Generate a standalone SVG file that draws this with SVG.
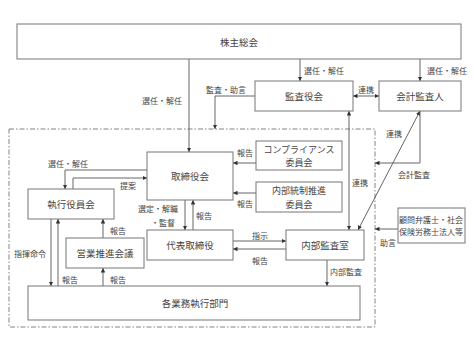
<svg xmlns="http://www.w3.org/2000/svg" width="474" height="356" viewBox="0 0 474 356">
<defs>
<marker id="ah" viewBox="0 0 6 6" refX="6" refY="3" markerWidth="4.5" markerHeight="4.5" orient="auto-start-reverse" markerUnits="userSpaceOnUse">
<path d="M0,0 L6,3 L0,6 Z" fill="#333"/>
</marker>
<style>
.box{fill:#fff;stroke:#777;stroke-width:1}
.t{font-family:"Noto Sans CJK JP","Noto Sans",sans-serif;font-size:9.5px;fill:#444;text-anchor:middle;dominant-baseline:central}
.t2{font-family:"Noto Sans CJK JP","Noto Sans",sans-serif;font-size:9px;fill:#444;text-anchor:middle;dominant-baseline:central}
.l{font-family:"Noto Sans CJK JP","Noto Sans",sans-serif;font-size:8px;fill:#444;text-anchor:middle;dominant-baseline:central}
.c{fill:none;stroke:#555;stroke-width:0.9}
.a{marker-end:url(#ah)}
.b{marker-start:url(#ah);marker-end:url(#ah)}
</style>
</defs>
<rect width="474" height="356" fill="#fff"/>
<rect id="frame" x="9" y="129" width="366" height="198" fill="none" stroke="#777" stroke-width="0.9" stroke-dasharray="5,2,1.5,2"/>
<g id="connectors">
<path class="c a" d="M189,59 V152"/>
<path class="c a" d="M300,59 V81"/>
<path class="c a" d="M420,59 V81"/>
<path class="c b" d="M353,96 H379"/>
<path class="c a" d="M255,96 H215 V129"/>
<path class="c a" d="M256,163 H233"/>
<path class="c a" d="M256,193 H233"/>
<path class="c a" d="M185,200 V230"/>
<path class="c a" d="M193,230 V200"/>
<path class="c a" d="M147,170 H65 V189"/>
<path class="c a" d="M73,189 V178 H147"/>
<path class="c a" d="M51,219 V286"/>
<path class="c a" d="M58,286 V219"/>
<path class="c a" d="M103,238 V219"/>
<path class="c a" d="M103,286 V268"/>
<path class="c a" d="M233,241 H286"/>
<path class="c a" d="M286,249 H233"/>
<path class="c a" d="M327,260 V286"/>
<path class="c b" d="M349,111 V230"/>
<path class="c b" d="M420,111 L358,230"/>
<path class="c a" d="M420,111 V163 H375"/>
<path class="c a" d="M398,229 H375"/>
</g>
<g id="labels">
<text class="l" x="162" y="100">選任・解任</text>
<text class="l" x="324" y="70">選任・解任</text>
<text class="l" x="447" y="70">選任・解任</text>
<text class="l" x="366" y="89">連携</text>
<text class="l" x="226" y="89">監査・助言</text>
<text class="l" x="245" y="152">報告</text>
<text class="l" x="245" y="203">報告</text>
<text class="l" x="158" y="208">選定・解職</text>
<text class="l" x="163" y="222">・監督</text>
<text class="l" x="204" y="215">報告</text>
<text class="l" x="68" y="163">選任・解任</text>
<text class="l" x="128" y="185">提案</text>
<text class="l" x="30" y="253">指揮命令</text>
<text class="l" x="70" y="279">報告</text>
<text class="l" x="118" y="230">報告</text>
<text class="l" x="118" y="279">報告</text>
<text class="l" x="260" y="235">指示</text>
<text class="l" x="260" y="260">報告</text>
<text class="l" x="346" y="271">内部監査</text>
<text class="l" x="360" y="182">連携</text>
<text class="l" x="394" y="133">連携</text>
<text class="l" x="414" y="174">会計監査</text>
<text class="l" x="388" y="242">助言</text>
</g>
<g id="shareholders"><rect class="box" x="17" y="24" width="444" height="35"/><text class="t" x="239" y="42">株主総会</text></g>
<g id="auditboard"><rect class="box" x="255" y="81" width="98" height="30"/><text class="t" x="304" y="96">監査役会</text></g>
<g id="accountant"><rect class="box" x="379" y="81" width="82" height="30"/><text class="t" x="420" y="96">会計監査人</text></g>
<g id="board"><rect class="box" x="147" y="152" width="86" height="48"/><text class="t" x="190" y="176">取締役会</text></g>
<g id="compliance"><rect class="box" x="256" y="141" width="86" height="29"/><text class="t2" x="299" y="149">コンプライアンス</text><text class="t2" x="299" y="162.5">委員会</text></g>
<g id="internalcontrol"><rect class="box" x="256" y="182" width="86" height="30"/><text class="t2" x="299" y="190.5">内部統制推進</text><text class="t2" x="299" y="204">委員会</text></g>
<g id="president"><rect class="box" x="147" y="230" width="86" height="30"/><text class="t" x="190" y="245">代表取締役</text></g>
<g id="executive"><rect class="box" x="28" y="189" width="86" height="30"/><text class="t" x="71" y="204">執行役員会</text></g>
<g id="sales"><rect class="box" x="66" y="238" width="78" height="30"/><text class="t" x="105" y="253">営業推進会議</text></g>
<g id="internalaudit"><rect class="box" x="286" y="230" width="78" height="30"/><text class="t" x="325" y="245">内部監査室</text></g>
<g id="divisions"><rect class="box" x="28" y="286" width="332" height="34"/><text class="t" x="195" y="303">各業務執行部門</text></g>
<g id="advisors"><rect class="box" x="398" y="208" width="67" height="35"/><text class="l" x="431" y="219.5">顧問弁護士・社会</text><text class="l" x="431" y="231.5">保険労務士法人等</text></g>
</svg>
